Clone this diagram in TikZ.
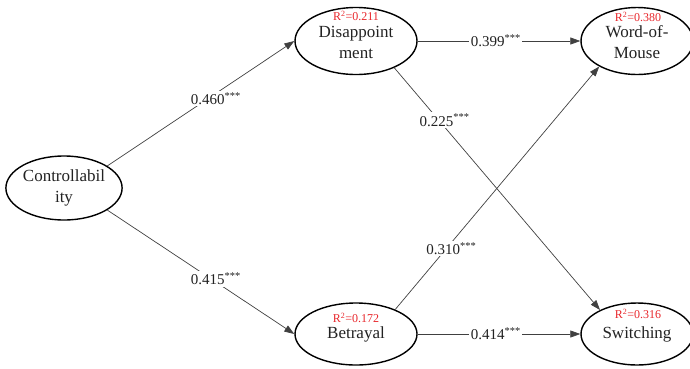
\documentclass[tikz,border=0pt]{standalone}
\usepackage{fontspec}
\setmainfont{Liberation Serif}
\usetikzlibrary{arrows.meta,shapes.geometric}
\definecolor{rsq}{HTML}{E8262B}
\definecolor{txt}{HTML}{222222}
\begin{document}
\begin{tikzpicture}[x=1pt,y=-1pt,
  latent/.style={ellipse, draw=black, line width=1.4pt, inner sep=0pt, align=center,
    font=\fontsize{17}{21}\selectfont, text=txt},
  rsqlabel/.style={text=rsq, font=\fontsize{12}{12}\selectfont, inner sep=0pt},
  pathline/.style={draw=black!75, line width=0.7pt, -{Triangle[length=10pt,width=7pt]}},
  coef/.style={fill=white, inner sep=1.5pt, font=\fontsize{15}{15}\selectfont, text=txt}]
\useasboundingbox (0,0) rectangle (690,368);
% latent variables
\node[latent, minimum width=108pt, minimum height=64pt] (C) at (64,188) {Controllabil\\ity};
\node[latent, minimum width=122pt, minimum height=67pt] (D) at (356,41) {\\[-6pt]Disappoint\\ment};
\node[latent, minimum width=112pt, minimum height=67pt] (W) at (637,41) {\\[-6pt]Word-of-\\Mouse};
\node[latent, minimum width=122pt, minimum height=62pt] (B) at (356,334) {Betrayal};
\node[latent, minimum width=112pt, minimum height=62pt] (S) at (637,334) {Switching};
% R-squared labels
\node[rsqlabel] (Dr) at (356,16) {R\textsuperscript{2}=0.211};
\node[rsqlabel] (Wr) at (638,17) {R\textsuperscript{2}=0.380};
\node[rsqlabel] (Br) at (356,318) {R\textsuperscript{2}=0.172};
\node[rsqlabel] (Sr) at (638,314) {R\textsuperscript{2}=0.316};
% paths
\draw[pathline] (C.27) -- node[coef, pos=0.58, yshift=-5pt] (c1) {0.460\textsuperscript{***}} (D.west);
\draw[pathline] (C.-27) -- node[coef, pos=0.58, yshift=3pt] (c2) {0.415\textsuperscript{***}} (B.west);
\draw[pathline] (D.east) -- node[coef, pos=0.48] (c3) {0.399\textsuperscript{***}} (W.west);
\draw[pathline] (B.east) -- node[coef, pos=0.48] (c4) {0.414\textsuperscript{***}} (S.west);
\draw[pathline] (D.-35) -- node[coef, pos=0.245, yshift=7pt] (c5) {0.225\textsuperscript{***}} (S.147);
\draw[pathline] (B.32) -- node[coef, pos=0.275, yshift=-6pt] (c6) {0.310\textsuperscript{***}} (W.-146);
\end{tikzpicture}
\end{document}
